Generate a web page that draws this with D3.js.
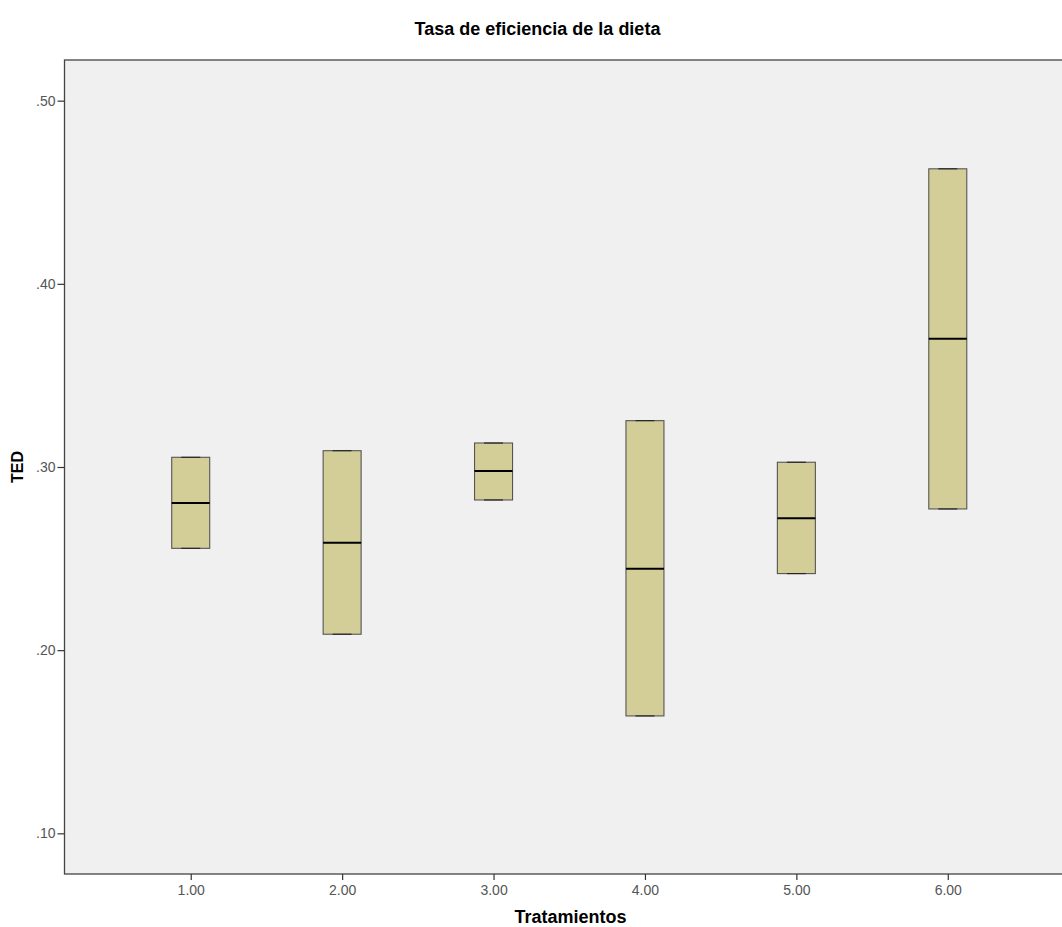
<!DOCTYPE html>
<html>
<head>
<meta charset="utf-8">
<script src="https://cdn.jsdelivr.net/npm/d3@7"></script>
<style>
  html, body { margin: 0; padding: 0; background: #ffffff; }
  svg { display: block; font-family: "Liberation Sans", Arial, sans-serif; }
</style>
</head>
<body>
<svg id="chart" width="1062" height="927"></svg>
<script>
// Treatment groups and their five-number summaries of TED
const treatments = ["1.00", "2.00", "3.00", "4.00", "5.00", "6.00"];
const minVals    = [0.2556, 0.2087, 0.2820, 0.1641, 0.2418, 0.2771];
const q1Vals     = [0.2556, 0.2087, 0.2820, 0.1641, 0.2418, 0.2771];
const medianVals = [0.2804, 0.2587, 0.2978, 0.2445, 0.2720, 0.3700];
const q3Vals     = [0.3053, 0.3089, 0.3131, 0.3253, 0.3026, 0.4628];
const maxVals    = [0.3053, 0.3089, 0.3131, 0.3253, 0.3026, 0.4628];
const yTicks     = [0.10, 0.20, 0.30, 0.40, 0.50];

const svg = d3.select("#chart");
const plot = { left: 64.5, top: 60, right: 1074, bottom: 874 };

const x = d3.scalePoint()
  .domain(treatments)
  .range([plot.left, plot.right])
  .padding(0.8336);

const y = d3.scaleLinear()
  .domain([0.0778, 0.5222])
  .range([plot.bottom, plot.top]);

// plot background
svg.append("rect")
  .attr("x", plot.left).attr("y", plot.top)
  .attr("width", plot.right - plot.left).attr("height", plot.bottom - plot.top)
  .attr("fill", "#f0f0f0")
  .attr("stroke", "#444").attr("stroke-width", 1.3);

// Y axis
const yAxis = svg.append("g")
  .attr("transform", `translate(${plot.left},0)`)
  .call(d3.axisLeft(y).tickValues(yTicks).tickSize(7).tickPadding(2)
    .tickFormat(d => d3.format(".2f")(d).replace(/^0/, "")));
yAxis.select(".domain").remove();
yAxis.selectAll(".tick line").attr("stroke", "#333").attr("stroke-width", 1.2);
yAxis.selectAll(".tick text").attr("fill", "#555").attr("font-size", 14)
  .attr("font-family", "Liberation Sans, Arial, sans-serif");

// X axis
const xAxis = svg.append("g")
  .attr("transform", `translate(0,${plot.bottom})`)
  .call(d3.axisBottom(x).tickSize(6).tickPadding(5));
xAxis.select(".domain").remove();
xAxis.selectAll(".tick line").attr("stroke", "#333").attr("stroke-width", 1.2);
xAxis.selectAll(".tick text").attr("fill", "#555").attr("font-size", 14)
  .attr("font-family", "Liberation Sans, Arial, sans-serif");

// Boxes
const boxW = 38;
const data = treatments.map((t, i) => ({
  t, min: minVals[i], q1: q1Vals[i], med: medianVals[i], q3: q3Vals[i], max: maxVals[i]
}));

const g = svg.append("g");
const box = g.selectAll("g.box").data(data).join("g").attr("class", "box");

// whiskers
box.append("line")
  .attr("x1", d => x(d.t)).attr("x2", d => x(d.t))
  .attr("y1", d => y(d.max)).attr("y2", d => y(d.q3))
  .attr("stroke", "#333");
box.append("line")
  .attr("x1", d => x(d.t)).attr("x2", d => x(d.t))
  .attr("y1", d => y(d.q1)).attr("y2", d => y(d.min))
  .attr("stroke", "#333");

box.append("rect")
  .attr("x", d => x(d.t) - boxW / 2)
  .attr("y", d => y(d.q3))
  .attr("width", boxW)
  .attr("height", d => y(d.q1) - y(d.q3))
  .attr("fill", "#d3ce97")
  .attr("stroke", "#555")
  .attr("stroke-width", 1.1);

// whisker caps
["max", "min"].forEach(k => {
  box.append("line")
    .attr("x1", d => x(d.t) - boxW / 4).attr("x2", d => x(d.t) + boxW / 4)
    .attr("y1", d => y(d[k])).attr("y2", d => y(d[k]))
    .attr("stroke", "#222").attr("stroke-width", 1.1);
});

// medians
box.append("line")
  .attr("x1", d => x(d.t) - boxW / 2).attr("x2", d => x(d.t) + boxW / 2)
  .attr("y1", d => y(d.med)).attr("y2", d => y(d.med))
  .attr("stroke", "#000").attr("stroke-width", 2);

// Title and axis labels
svg.append("text")
  .attr("x", 537.5).attr("y", 35)
  .attr("text-anchor", "middle")
  .attr("font-size", 18).attr("font-weight", "bold").attr("fill", "#000")
  .text("Tasa de eficiencia de la dieta");

svg.append("text")
  .attr("x", 570.5).attr("y", 923)
  .attr("text-anchor", "middle")
  .attr("font-size", 18).attr("font-weight", "bold").attr("fill", "#000")
  .text("Tratamientos");

svg.append("text")
  .attr("transform", `translate(23,467) rotate(-90)`)
  .attr("text-anchor", "middle")
  .attr("font-size", 16).attr("font-weight", "bold").attr("fill", "#000")
  .text("TED");
</script>
</body>
</html>
